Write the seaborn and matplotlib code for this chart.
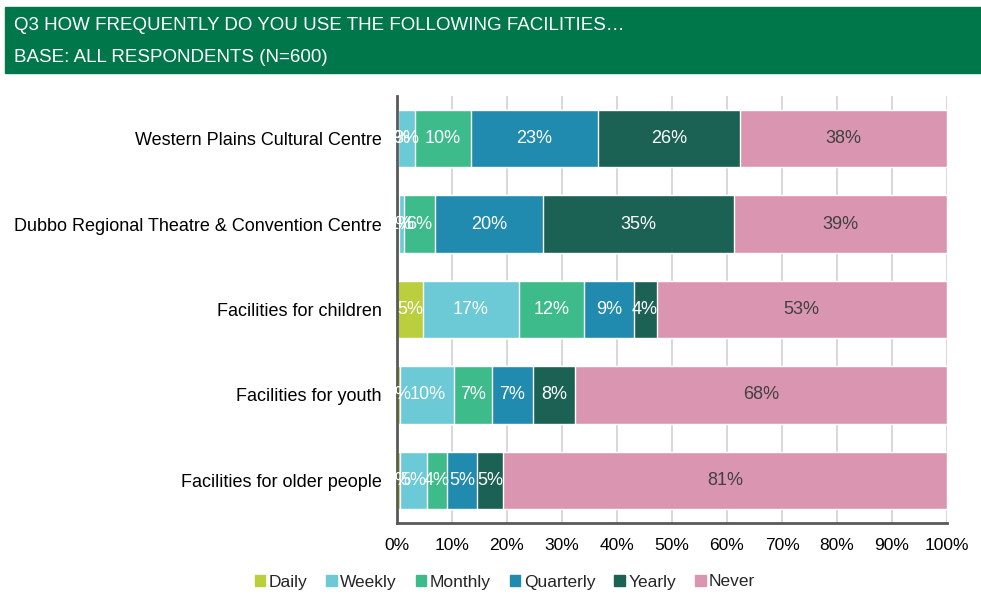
import numpy as np
import pandas as pd
import matplotlib
matplotlib.use("Agg")
import matplotlib.pyplot as plt
from matplotlib.patches import Rectangle, Patch
import seaborn as sns

facilities = ["Western Plains Cultural Centre",
              "Dubbo Regional Theatre & Convention Centre",
              "Facilities for children",
              "Facilities for youth",
              "Facilities for older people"]
levels = ["Daily", "Weekly", "Monthly", "Quarterly", "Yearly", "Never"]

daily = [0.2, 0.3, 4.8, 0.6, 0.6]
weekly = [3.1, 0.9, 17.3, 9.8, 4.8]
monthly = [10.1, 5.7, 11.9, 6.9, 3.7]
quarterly = [23.2, 19.6, 9.0, 7.4, 5.4]
yearly = [25.8, 34.8, 4.2, 7.7, 4.8]
never = [37.6, 38.7, 52.8, 67.6, 80.7]

palette = ["#BBCE3E", "#6BCAD6", "#3EBB8A", "#208BAE", "#1B6154", "#DA96B0"]
label_colors = ["white"] * 5 + ["#404040"]

sns.set_theme(style="white")
plt.rcParams["font.family"] = ["Liberation Sans", "DejaVu Sans"]

df = pd.DataFrame(dict(zip(levels, [daily, weekly, monthly, quarterly, yearly, never])),
                  index=facilities)
cum = df.cumsum(axis=1)

fig = plt.figure(figsize=(9.81, 5.94), dpi=100)
ax = fig.add_axes([397 / 981, 71 / 594, 550 / 981, 427 / 594])

# header band
fig.patches.append(Rectangle((5 / 981, 1 - 73 / 594), 1, 66 / 594,
                             transform=fig.transFigure, color="#00774A", zorder=0))
fig.text(14 / 981, 1 - 26 / 594, "Q3 HOW FREQUENTLY DO YOU USE THE FOLLOWING FACILITIES…",
         color="white", fontsize=13.5, va="center", ha="left")
fig.text(14 / 981, 1 - 58 / 594, "BASE: ALL RESPONDENTS (N=600)",
         color="white", fontsize=13.5, va="center", ha="left")

# stacked bars: draw cumulative totals from the largest down
for lvl, col in reversed(list(zip(levels, palette))):
    sns.barplot(x=cum[lvl].values, y=facilities, color=col, orient="h",
                width=0.67, saturation=1, ax=ax, zorder=2)

# segment labels (overlaps on tiny segments are as in the original)
for i, fac in enumerate(facilities):
    for lvl, tc in zip(levels, label_colors):
        v = df.loc[fac, lvl]
        centre = cum.loc[fac, lvl] - v / 2
        ax.text(centre, i, f"{round(v):.0f}%", ha="center", va="center",
                color=tc, fontsize=13, zorder=3)

ax.set_xlim(0, 100)
ax.set_ylim(4.5, -0.5)
ax.set_xticks(np.arange(0, 101, 10))
ax.set_xticklabels([f"{t}%" for t in range(0, 101, 10)])
ax.tick_params(axis="x", length=0, pad=11, labelsize=12.5, colors="black")
ax.tick_params(axis="y", length=0, pad=11, labelsize=13, colors="black")
ax.set_xlabel("")
ax.set_ylabel("")
ax.set_axisbelow(True)
ax.xaxis.grid(True, color="#d9d9d9", lw=1.5)
for s in ["top", "right"]:
    ax.spines[s].set_visible(False)
for s in ["left", "bottom"]:
    ax.spines[s].set_color("#595959")
    ax.spines[s].set_linewidth(2)

handles = [Patch(color=c, label=l) for l, c in zip(levels, palette)]
fig.legend(handles=handles, loc="center", bbox_to_anchor=(505 / 981, 12 / 594),
           ncol=6, frameon=False, fontsize=12.5, handlelength=0.6, handleheight=0.6,
           handletextpad=0.2, columnspacing=1.1)

fig.savefig("out.png", dpi=100)
